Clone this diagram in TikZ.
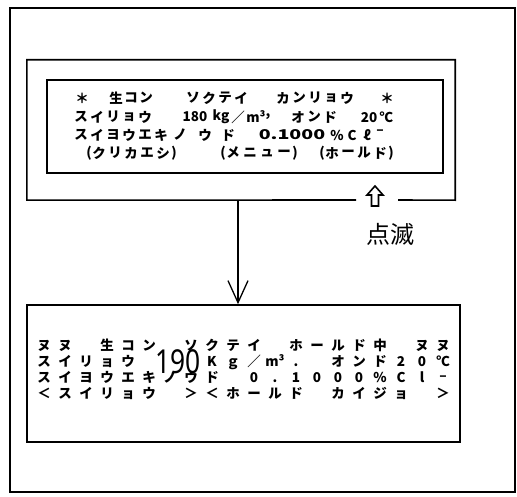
\documentclass[tikz,border=0pt]{standalone}
\usepackage{fontspec}
\newfontfamily\jpf{Noto Sans CJK JP}
\newfontfamily\numf{Noto Sans}
\usetikzlibrary{arrows.meta}
\begin{document}
\begin{tikzpicture}[x=1pt,y=-1pt,
  frame/.style={draw, line width=1.6pt, inner sep=0pt},
  utext/.style={font=\jpf\bfseries\fontsize{13.5}{13.5}\selectfont, inner sep=0pt},
  ltext/.style={font=\jpf\bfseries\fontsize{13.5}{13.5}\selectfont, inner sep=0pt, text height=10pt, text depth=1pt},
]
\useasboundingbox (0,0) rectangle (517,497);
% frames
\node[frame, minimum width=505pt, minimum height=484pt] (outer) at (262.5,250) {};
\node[inner sep=0pt, minimum width=428pt, minimum height=140pt] (upper) at (241,130) {};
\coordinate (gapL) at (356,200);
\coordinate (gapR) at (398,200);
\draw[line width=1.6pt] (gapR) -- (upper.south east) -- (upper.north east) -- (upper.north west) -- (upper.south west) -- (gapL);
\node[frame, line width=1.4pt, minimum width=396pt, minimum height=93pt] (inner) at (245,126.5) {};
\node[frame, minimum width=433pt, minimum height=137pt] (lower) at (243.5,373.5) {};
% connector
\coordinate (ax) at (238,250);
\draw[line width=1.3pt, -{Straight Barb[length=22pt,width=20pt]}] (upper.south -| ax) -- (lower.north -| ax);
% hollow up arrow
\draw[line width=1.6pt, line join=miter] (375,186) -- (383,195) -- (378.5,195) -- (378.5,206) -- (371.5,206) -- (371.5,195) -- (367,195) -- cycle;
\node[font=\jpf\fontsize{24}{24}\selectfont, inner sep=0pt] (blink) at (390,234) {点滅};
% upper screen
\foreach \t/\x [count=\i] in {＊/82, 生/116, コ/131, ン/146, ソ/193, ク/209, テ/225, イ/241, カ/283, ン/299, リ/315, ョ/331, ウ/347, ＊/387}
  \node[utext] (ua\i) at (\x,98) {\t};
\foreach \t/\x [count=\i] in {ス/81, イ/97, リ/113, ョ/129, ウ/145, 180/195, kg/221, ／/238, m³/256, {,}/268, オ/298, ン/314, ド/330, {20\,℃}/377}
  \node[utext] (ub\i) at (\x,117) {\t};
\foreach \t/\x [count=\i] in {ス/81, イ/97, ヨ/113, ウ/129, エ/145, キ/161, ノ/180, ウ/205, ド/228, {\scalebox{1.45}[1]{0.1000}}/292, \%/337, C/352, ℓ/367, {\raisebox{5pt}{–}}/380}
  \node[utext] (uc\i) at (\x,135) {\t};
\foreach \t/\x [count=\i] in {{(}/89, ク/99, リ/115, カ/131, エ/147, シ/163, {)}/174, {(}/223, メ/233, ニ/250, ュ/267, ー/284, {)}/295, {(}/322, ホ/332, ー/348, ル/364, ド/380, {)}/391}
  \node[utext] (ud\i) at (\x,153) {\t};
% lower screen (20 columns)
\foreach \t [count=\i] in {ヌ,ヌ,,生,コ,ン,,ソ,ク,テ,イ,,ホ,ー,ル,ド,中,,ヌ,ヌ}
  \node[ltext] (la\i) at ({44+21*(\i-1)},346) {\t};
\foreach \t [count=\i] in {ス,イ,リ,ョ,ウ,,,,K,ｇ,／,m³,.,,オ,ン,ド,2,0,℃}
  \node[ltext] (lb\i) at ({44+21*(\i-1)},362) {\t};
\foreach \t [count=\i] in {ス,イ,ヨ,ウ,エ,キ,ノ,ウ,ド,,0,.,1,0,0,0,\%,C,l,{\raisebox{2pt}{–}}}
  \node[ltext] (lc\i) at ({44+21*(\i-1)},378) {\t};
\foreach \t [count=\i] in {＜,ス,イ,リ,ョ,ウ,,＞,＜,ホ,ー,ル,ド,,カ,イ,ジ,ョ,,＞}
  \node[ltext] (ld\i) at ({44+21*(\i-1)},394) {\t};
\node[font=\numf\fontsize{33}{33}\selectfont, inner sep=0pt] (n190) at (178,362) {\scalebox{0.8}[1]{190}};
\end{tikzpicture}
\end{document}
